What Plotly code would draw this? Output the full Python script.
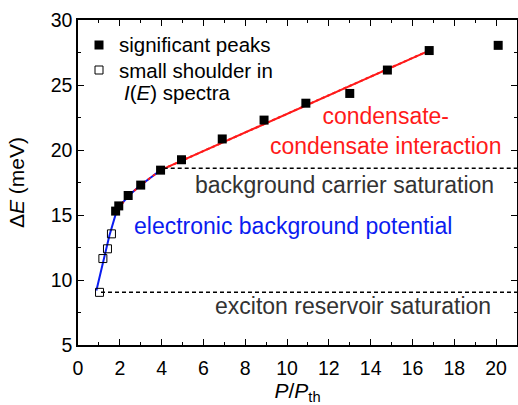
import plotly.graph_objects as go

# Data
peaks_x = [1.8, 1.95, 2.4, 3.0, 3.95, 4.95, 6.9, 8.9, 10.9, 13.0, 14.8, 16.8, 20.1]
peaks_y = [15.3, 15.7, 16.5, 17.3, 18.45, 19.25, 20.85, 22.3, 23.6, 24.35, 26.15, 27.65, 28.05]
shoulder_x = [1.03, 1.19, 1.41, 1.6]
shoulder_y = [9.05, 11.65, 12.4, 13.55]
blue_x = [0.88, 1.2, 1.5, 1.8, 2.0, 2.5, 3.0, 3.5, 3.95]
blue_y = [9.2, 11.5, 13.4, 15.05, 15.7, 16.6, 17.3, 17.9, 18.45]
red_x = [1.9, 2.5, 3.0, 3.5, 3.95, 16.8]
red_y = [15.5, 16.6, 17.3, 17.9, 18.45, 27.65]
sat_bg = 18.6
sat_ex = 9.05

FONT = "Liberation Sans, Arial, sans-serif"
fs_txt = 23
fs_leg = 20.5
fs_tick = 19.5
fs_title = 21

# plot area geometry (pixels) for paper-coordinate legend placement
L, R, T, B, W, H = 78, 1, 20, 60, 518, 405
PW, PH = W - L - R, H - T - B
def px(xp):
    return (xp - L) / PW
def py(yp):
    return (H - B - yp) / PH

fig = go.Figure()
fig.add_trace(go.Scatter(x=blue_x, y=blue_y, mode="lines", line=dict(color="#0a1cf0", width=2), showlegend=False))
fig.add_trace(go.Scatter(x=red_x, y=red_y, mode="lines", line=dict(color="#ff1a1a", width=2, dash="3px,3px"), showlegend=False))
fig.add_trace(go.Scatter(x=[red_x[-2], red_x[-1]], y=[red_y[-2], red_y[-1]], mode="lines", line=dict(color="#ff1a1a", width=2), showlegend=False))
fig.add_trace(go.Scatter(x=[4.1, 21], y=[sat_bg, sat_bg], mode="lines",
                         line=dict(color="black", width=1.5, dash="4px,3px"), showlegend=False))
fig.add_trace(go.Scatter(x=[1.1, 21], y=[sat_ex, sat_ex], mode="lines",
                         line=dict(color="black", width=1.5, dash="4px,3px"), showlegend=False))
fig.add_trace(go.Scatter(x=peaks_x, y=peaks_y, mode="markers", name="significant peaks", showlegend=False,
                         marker=dict(symbol="square", size=9, color="black")))
fig.add_trace(go.Scatter(x=shoulder_x, y=shoulder_y, mode="markers", showlegend=False,
                         name="small shoulder in I(E) spectra",
                         marker=dict(symbol="square-open", size=8, color="black", line=dict(width=1))))

# legend (manual, paper coordinates)
fig.add_shape(type="rect", xref="paper", yref="paper", x0=px(94.5), x1=px(103.5), y0=py(49.5), y1=py(40.5),
              fillcolor="black", line=dict(width=0))
fig.add_shape(type="rect", xref="paper", yref="paper", x0=px(95), x1=px(103), y0=py(74), y1=py(66),
              fillcolor="white", line=dict(color="black", width=1))
fig.add_annotation(xref="paper", yref="paper", x=px(117), y=py(45), xanchor="left", yanchor="middle",
                   text="significant peaks", showarrow=False, font=dict(family=FONT, size=fs_leg))
fig.add_annotation(xref="paper", yref="paper", x=px(117), y=py(70), xanchor="left", yanchor="middle",
                   text="small shoulder in", showarrow=False, font=dict(family=FONT, size=fs_leg))
fig.add_annotation(xref="paper", yref="paper", x=px(122), y=py(92), xanchor="left", yanchor="middle",
                   text="<i>I</i>(<i>E</i>) spectra", showarrow=False, font=dict(family=FONT, size=fs_leg))

fig.add_annotation(x=12.75, y=17.3, text="background carrier saturation", showarrow=False,
                   font=dict(family=FONT, size=fs_txt, color="#333333"))
fig.add_annotation(x=13.15, y=8.0, text="exciton reservoir saturation", showarrow=False,
                   font=dict(family=FONT, size=fs_txt, color="#333333"))
fig.add_annotation(x=10.3, y=14.15, text="electronic background potential", showarrow=False,
                   font=dict(family=FONT, size=fs_txt, color="#0a1cf0"))
fig.add_annotation(x=14.7, y=21.5, text="condensate-<br>condensate interaction", showarrow=False,
                   font=dict(family=FONT, size=fs_txt, color="#ff1a1a"))

axis_common = dict(showline=True, linecolor="black", linewidth=1.5, mirror="allticks",
                   ticks="inside", ticklen=6, tickwidth=1.2, tickcolor="black",
                   showgrid=False, zeroline=False, automargin=False,
                   tickfont=dict(family=FONT, size=fs_tick, color="black"))
fig.update_xaxes(range=[0, 21], tick0=0, dtick=2, ticklabelstandoff=5,
                 minor=dict(dtick=1, ticks="inside", ticklen=3, tickcolor="black", tickwidth=1.2),
                 title=dict(text="<i>P</i>/<i>P</i><sub>th</sub>", font=dict(family=FONT, size=fs_title), standoff=19),
                 **axis_common)
fig.update_yaxes(range=[5, 30], tick0=5, dtick=5,
                 minor=dict(dtick=2.5, ticks="inside", ticklen=3, tickcolor="black", tickwidth=1.2),
                 title=dict(text="Δ<i>E</i> (meV)", font=dict(family=FONT, size=fs_title), standoff=20),
                 **axis_common)
fig.update_layout(width=W, height=H, margin=dict(l=L, r=R, t=T, b=B),
                  plot_bgcolor="white", paper_bgcolor="white",
                  font=dict(family=FONT, size=fs_txt, color="black"),
                  showlegend=False)
fig.write_html("out.html")
